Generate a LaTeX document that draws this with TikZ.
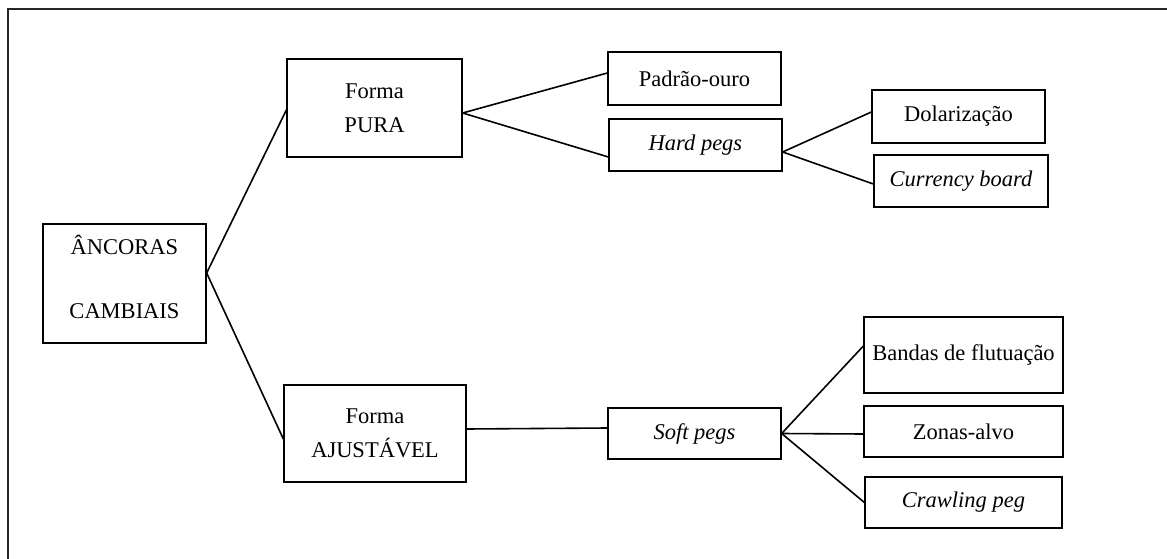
\documentclass[tikz,border=0pt]{standalone}
\usepackage{fontspec}
\setmainfont{Liberation Serif}
\usepackage{tikz}
\usetikzlibrary{positioning}

\begin{document}
\begin{tikzpicture}[x=1pt, y=-1pt,
  font=\fontsize{22.5}{34}\selectfont,
  box/.style={draw, line width=1.3pt, inner sep=0pt, align=center},
  link/.style={line width=1.6pt}]
  \clip (0,0) rectangle (1167,559);
  % frame (right and bottom edges fall outside the page)
  \draw[line width=1.5pt, black!85] (8,580) |- (1190,9);
  % level 0
  \node[box, minimum width=163pt, minimum height=119pt] (root) at (124.5,283.5) {ÂNCORAS\\[30pt]CAMBIAIS\\[-20pt]\mbox{}};
  \coordinate (rootout) at ([yshift=10.5pt]root.east);
  % level 1
  \node[box, minimum width=175pt, minimum height=98pt] (pura) at (374.5,108) {Forma\\PURA};
  \node[box, minimum width=182pt, minimum height=97pt] (ajust) at (375,433.5) {Forma\\AJUSTÁVEL};
  % level 2
  \node[box, minimum width=173pt, minimum height=53pt] (ouro) at (694.5,78.5) {Padrão-ouro};
  \node[box, minimum width=173pt, minimum height=52pt] (hard) at (695.5,145) {\textit{Hard pegs}};
  \node[box, minimum width=173pt, minimum height=51pt] (soft) at (694.5,433.5) {\textit{Soft pegs}};
  % level 3
  \node[box, minimum width=173pt, minimum height=53pt] (dolar) at (958.5,116.5) {Dolarização};
  \node[box, minimum width=174pt, minimum height=52pt] (board) at (961,181) {\textit{Currency board}};
  \node[box, minimum width=199pt, minimum height=76pt] (bandas) at (963.5,355) {Bandas de flutuação};
  \node[box, minimum width=199pt, minimum height=51pt] (zonas) at (963.5,431.5) {Zonas-alvo};
  \node[box, minimum width=197pt, minimum height=51pt] (crawl) at (963.5,502.5) {\textit{Crawling peg}};
  % connectors
  \draw[link] (rootout) -- ([yshift=-2pt]pura.west);
  \draw[link] (rootout) -- ([yshift=-5.5pt]ajust.west);
  \draw[link] ([yshift=-5pt]pura.east) -- ([yshift=5.5pt]ouro.west);
  \draw[link] ([yshift=-5pt]pura.east) -- ([yshift=-12pt]hard.west);
  \draw[link] ([yshift=-7pt]hard.east) -- ([yshift=4.5pt]dolar.west);
  \draw[link] ([yshift=-7pt]hard.east) -- ([yshift=-3pt]board.west);
  \draw[link] ([yshift=4.5pt]ajust.east) -- ([yshift=5.5pt]soft.west);
  \draw[link] (soft.east) -- ([yshift=9pt]bandas.west);
  \draw[link] (soft.east) -- ([yshift=-2.5pt]zonas.west);
  \draw[link] (soft.east) -- (crawl.west);
\end{tikzpicture}
\end{document}
